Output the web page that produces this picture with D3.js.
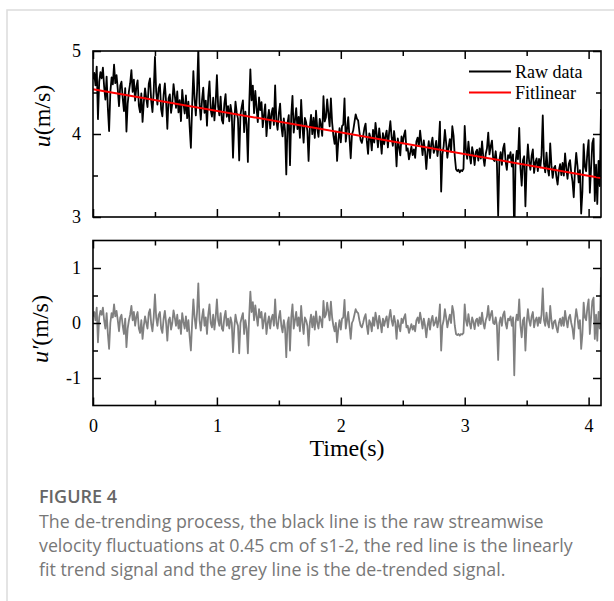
<!DOCTYPE html>
<html>
<head>
<meta charset="utf-8">
<script src="https://cdn.jsdelivr.net/npm/d3@7"></script>
<style>
  body { margin: 0; background: #fff; }
  svg { display: block; }
</style>
</head>
<body>
<div id="chart"></div>
<script>
// fluctuation u', one value every 0.01 s
var uPrime = [
  0.12, 0.2, 0.05, 0.28, -0.35, 0.1, 0.22, 0.15, 0.28, 0.05,
  -0.1, 0.18, -0.2, -0.47, 0.0, 0.18, 0.1, 0.34, 0.12, 0.22,
  0.05, -0.15, 0.1, 0.15, -0.05, -0.2, 0.08, -0.44, -0.1, 0.05,
  0.15, 0.31, 0.05, 0.2, -0.05, 0.12, 0.2, -0.1, -0.18, 0.05,
  -0.29, -0.05, 0.12, 0.0, -0.1, 0.18, 0.25, -0.02, -0.15, 0.1,
  0.52, 0.1, -0.05, 0.15, 0.2, -0.1, -0.18, 0.08, 0.22, 0.0,
  -0.32, 0.05, 0.1, -0.12, 0.0, 0.23, 0.1, -0.05, 0.15, -0.1,
  0.05, -0.2, 0.18, 0.02, -0.1, 0.12, -0.15, 0.05, -0.25, -0.5,
  0.0, 0.43, 0.1, -0.1, 0.2, 0.72, 0.05, -0.14, 0.1, 0.25,
  -0.05, 0.1, -0.2, 0.15, 0.34, 0.0, -0.08, 0.15, -0.12, 0.1,
  0.43, 0.05, -0.05, 0.18, -0.1, -0.14, 0.1, 0.22, -0.05, 0.08,
  -0.1, 0.1, 0.0, -0.53, -0.1, 0.15, 0.02, -0.05, -0.55, 0.0,
  0.1, 0.18, -0.2, 0.05, -0.1, -0.55, 0.1, 0.57, 0.2, 0.38,
  0.05, 0.32, 0.12, -0.05, 0.25, 0.1, 0.2, -0.1, 0.05, 0.18,
  -0.2, 0.0, 0.12, -0.1, 0.08, 0.15, -0.05, 0.43, 0.0, -0.1,
  0.1, 0.22, -0.05, -0.17, 0.05, -0.1, -0.62, 0.0, 0.1, -0.5,
  0.1, 0.34, -0.1, 0.05, 0.2, -0.05, 0.1, -0.15, 0.31, 0.0,
  -0.2, 0.1, 0.05, -0.05, -0.41, 0.0, 0.15, -0.08, 0.12, -0.12,
  0.21, 0.0, -0.1, 0.12, 0.05, -0.08, 0.4, 0.1, 0.15, 0.37,
  0.2, 0.05, 0.39, 0.1, -0.05, -0.15, 0.0, -0.35, -0.1, 0.05,
  -0.12, 0.08, 0.1, 0.42, -0.1, 0.05, 0.2, -0.05, -0.29, 0.0,
  0.05, 0.15, 0.25, 0.2, 0.18, 0.05, -0.05, -0.08, 0.0, 0.1,
  0.16, -0.05, -0.2, 0.05, 0.0, -0.15, 0.1, -0.05, 0.19, 0.05,
  -0.1, 0.13, 0.0, -0.17, 0.08, -0.05, 0.05, 0.12, -0.08, 0.1,
  0.24, 0.05, -0.05, 0.13, 0.0, -0.29, 0.05, -0.05, -0.15, 0.08,
  0.0, 0.1, 0.16, -0.08, -0.05, -0.18, -0.1, -0.02, -0.12, -0.05,
  -0.15, 0.05, 0.1, 0.0, 0.19, 0.05, -0.1, 0.08, -0.05, -0.26,
  -0.05, 0.08, -0.12, 0.05, 0.13, -0.05, 0.0, 0.1, -0.08, 0.05,
  0.34, -0.5, -0.05, 0.05, 0.25, 0.1, -0.08, 0.05, 0.15, 0.0,
  0.31, 0.2, -0.05, -0.2, -0.22, -0.2, -0.23, -0.2, -0.21, -0.18,
  0.34, 0.05, -0.05, 0.16, 0.0, -0.1, 0.1, 0.02, -0.11, 0.05,
  0.08, -0.05, 0.1, -0.02, 0.19, 0.0, -0.1, 0.05, 0.12, 0.31,
  0.05, 0.15, 0.22, 0.0, -0.02, 0.1, -0.05, -0.67, 0.0, 0.1,
  -0.05, 0.15, 0.21, 0.0, -0.1, 0.08, 0.05, 0.12, -0.05, 0.1,
  -0.95, 0.0, 0.15, 0.05, 0.43, -0.05, -0.26, 0.05, 0.1, -0.5,
  0.0, 0.25, 0.05, -0.05, 0.12, 0.2, -0.08, 0.05, 0.1, -0.05,
  0.1, 0.0, 0.15, 0.63, 0.05, -0.05, 0.19, 0.0, -0.08, 0.31,
  0.05, -0.1, 0.02, 0.05, -0.08, -0.17, 0.0, 0.08, -0.05, 0.1,
  -0.05, 0.22, 0.05, -0.08, 0.1, 0.15, 0.0, -0.1, -0.29, 0.05,
  0.25, 0.1, -0.1, 0.05, -0.47, -0.2, 0.37, 0.1, 0.05, 0.28,
  0.43, -0.2, 0.1, 0.4, 0.46, -0.29, 0.15, -0.32, 0.2, -0.1,
  0.83
];
var sampleStep = 0.01;

// red linear fit, end points
var fitTime = [0, 4.1];
var fitValue = [4.54, 3.47];

var xTicks = [0, 1, 2, 3, 4];
var xMinor = [0.5, 1.5, 2.5, 3.5];
var topTicks = [3, 4, 5];
var topMinor = [3.5, 4.5];
var botTicks = [-1, 0, 1];
var botMinor = [-0.5, 0.5];
var legendLabels = ["Raw data", "Fitlinear"];

var captionTitle = "FIGURE 4";
var captionLines = [
  "The de-trending process, the black line is the raw streamwise",
  "velocity fluctuations at 0.45 cm of s1-2, the red line is the linearly",
  "fit trend signal and the grey line is the de-trended signal."
];

var W = 614, H = 601;
var left = 93, right = 601;
var topPanel = {y0: 51, y1: 217};
var botPanel = {y0: 240.5, y1: 405.5};
var serif = "'Liberation Serif', 'Times New Roman', serif";

var svg = d3.select("#chart").append("svg")
    .attr("width", W)
    .attr("height", H);

// card border
svg.append("path")
    .attr("d", "M7,601 V10 H614")
    .attr("fill", "none")
    .attr("stroke", "#dcdcdc")
    .attr("stroke-width", 1.5);

var x = d3.scaleLinear().domain([0, 4.1]).range([left, right]);
var yTop = d3.scaleLinear().domain([3, 5]).range([topPanel.y1, topPanel.y0]);
var yBot = d3.scaleLinear().domain([-1.5, 1.5]).range([botPanel.y1, botPanel.y0]);
var fitAt = d3.scaleLinear().domain(fitTime).range(fitValue);

var data = uPrime.map(function(d, i) {
  var t = +(i * sampleStep).toFixed(2);
  return {t: t, fluct: d, raw: fitAt(t) + d};   // raw = trend + fluctuation
});

function fmt(d) { return d < 0 ? "-" + Math.abs(d) : String(d); }

function drawFrame(y, py, majorY, minorY, showX) {
  var g = svg.append("g");
  // left
  g.append("g").attr("transform", "translate(" + left + ",0)")
    .call(d3.axisLeft(y).tickValues(majorY).tickSize(-8).tickPadding(12).tickFormat(fmt));
  g.append("g").attr("transform", "translate(" + left + ",0)")
    .call(d3.axisLeft(y).tickValues(minorY).tickSize(-5).tickFormat(""));
  // right
  g.append("g").attr("transform", "translate(" + right + ",0)")
    .call(d3.axisRight(y).tickValues(majorY).tickSize(-8).tickFormat(""));
  g.append("g").attr("transform", "translate(" + right + ",0)")
    .call(d3.axisRight(y).tickValues(minorY).tickSize(-5).tickFormat(""));
  // bottom
  var xb = d3.axisBottom(x).tickValues(xTicks).tickSize(-8).tickPadding(14);
  if (showX) xb.tickFormat(fmt); else xb.tickFormat("");
  g.append("g").attr("transform", "translate(0," + py.y1 + ")").call(xb);
  g.append("g").attr("transform", "translate(0," + py.y1 + ")")
    .call(d3.axisBottom(x).tickValues(xMinor).tickSize(-5).tickFormat(""));
  // top
  g.append("g").attr("transform", "translate(0," + py.y0 + ")")
    .call(d3.axisTop(x).tickValues(xTicks).tickSize(-8).tickFormat(""));
  g.append("g").attr("transform", "translate(0," + py.y0 + ")")
    .call(d3.axisTop(x).tickValues(xMinor).tickSize(-5).tickFormat(""));

  g.selectAll(".domain").remove();
  g.selectAll(".tick line").attr("stroke", "#000").attr("stroke-width", 1.5);
  g.selectAll(".tick text")
    .style("font-family", serif)
    .style("font-size", "18px")
    .attr("fill", "#000");

  svg.append("rect")
    .attr("x", left).attr("y", py.y0)
    .attr("width", right - left).attr("height", py.y1 - py.y0)
    .attr("fill", "none").attr("stroke", "#000").attr("stroke-width", 1.6);
}

// clip paths
var defs = svg.append("defs");
defs.append("clipPath").attr("id", "clipTop").append("rect")
  .attr("x", left).attr("y", topPanel.y0).attr("width", right - left).attr("height", topPanel.y1 - topPanel.y0);
defs.append("clipPath").attr("id", "clipBot").append("rect")
  .attr("x", left).attr("y", botPanel.y0).attr("width", right - left).attr("height", botPanel.y1 - botPanel.y0);

// upper panel: raw data + linear fit
svg.append("path")
    .datum(data)
    .attr("clip-path", "url(#clipTop)")
    .attr("fill", "none")
    .attr("stroke", "#000")
    .attr("stroke-width", 1.8)
    .attr("stroke-linejoin", "round")
    .attr("d", d3.line().x(function(d) { return x(d.t); }).y(function(d) { return yTop(d.raw); }));

svg.append("path")
    .datum(fitTime.map(function(t, i) { return {t: t, v: fitValue[i]}; }))
    .attr("fill", "none")
    .attr("stroke", "#ff0000")
    .attr("stroke-width", 2)
    .attr("d", d3.line().x(function(d) { return x(d.t); }).y(function(d) { return yTop(d.v); }));

// lower panel: de-trended signal
svg.append("path")
    .datum(data)
    .attr("clip-path", "url(#clipBot)")
    .attr("fill", "none")
    .attr("stroke", "#808080")
    .attr("stroke-width", 1.8)
    .attr("stroke-linejoin", "round")
    .attr("d", d3.line().x(function(d) { return x(d.t); }).y(function(d) { return yBot(d.fluct); }));

drawFrame(yTop, topPanel, topTicks, topMinor, false);
drawFrame(yBot, botPanel, botTicks, botMinor, true);

// legend
var legendColors = ["#000", "#ff0000"];
legendLabels.forEach(function(lbl, i) {
  var ly = 71.5 + i * 21;
  svg.append("line")
    .attr("x1", 469).attr("x2", 511).attr("y1", ly).attr("y2", ly)
    .attr("stroke", legendColors[i]).attr("stroke-width", 2);
  svg.append("text")
    .attr("x", 515).attr("y", ly + 6)
    .style("font-family", serif).style("font-size", "18px")
    .text(lbl);
});

// axis titles
function yTitle(cx, cy, sym) {
  var t = svg.append("text")
    .attr("transform", "translate(" + cx + "," + cy + ") rotate(-90)")
    .attr("text-anchor", "middle")
    .attr("dy", "0.35em")
    .style("font-family", serif)
    .style("font-size", "24px");
  t.append("tspan").style("font-style", "italic").text(sym);
  t.append("tspan").text("(m/s)");
}
yTitle(42, 116, "u");
yTitle(40, 329, "u\u2032");

svg.append("text")
    .attr("x", 347).attr("y", 456)
    .attr("text-anchor", "middle")
    .style("font-family", serif)
    .style("font-size", "24px")
    .text("Time(s)");

// caption
svg.append("text")
    .attr("x", 39).attr("y", 503)
    .style("font-family", "'Open Sans', sans-serif")
    .style("font-size", "18px")
    .style("font-weight", 600)
    .attr("fill", "#666")
    .text(captionTitle);

captionLines.forEach(function(line, i) {
  svg.append("text")
    .attr("x", 39).attr("y", 528 + i * 24)
    .style("font-family", "'Open Sans', sans-serif")
    .style("font-size", "17.8px")
    .attr("fill", "#777")
    .text(line);
});
</script>
</body>
</html>
